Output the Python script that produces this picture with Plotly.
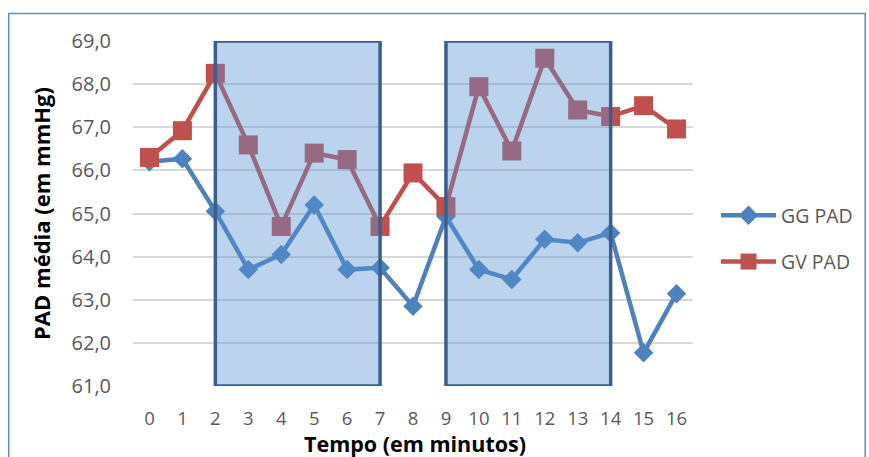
import plotly.graph_objects as go

# Time in minutes
minutes = list(range(17))

# Mean arterial pressure (mmHg) per group
gg_pad = [66.20, 66.27, 65.05, 63.70, 64.05, 65.20, 63.70, 63.74, 62.85,
          64.93, 63.70, 63.47, 64.40, 64.32, 64.55, 61.77, 63.14]
gv_pad = [66.30, 66.92, 68.25, 66.59, 64.70, 66.40, 66.25, 64.70, 65.94,
          65.16, 67.94, 66.45, 68.60, 67.40, 67.25, 67.50, 66.96]

# Highlighted time windows (start, end minute)
windows = [(2, 7), (9, 14)]

y_min, y_max = 61.0, 69.0

fig = go.Figure()

fig.add_trace(go.Scatter(
    x=minutes, y=gg_pad, name="GG PAD", mode="lines+markers",
    line=dict(color="#4F81BD", width=4.5),
    marker=dict(symbol="diamond", size=15, color="#4F81BD"),
    legendgroup="gg",
))
fig.add_trace(go.Scatter(
    x=minutes, y=gv_pad, name="GV PAD", mode="lines+markers",
    line=dict(color="#C0504D", width=4.5),
    marker=dict(symbol="square", size=19, color="#C0504D"),
    legendgroup="gv",
))

for x0, x1 in windows:
    fig.add_shape(
        type="rect", xref="x", yref="y", x0=x0, x1=x1, y0=y_min, y1=y_max,
        fillcolor="rgba(85,145,210,0.4)",
        line=dict(color="#3A5F8E", width=3.5),
        layer="above",
    )

# Plot area in pixels: x 133..694, y 41..386
L, R, T, B = 133, 175, 41, 71
W, H = 869, 457
pw, ph = W - L - R, H - T - B


def px_x(v):
    return (v - L) / pw


def px_y(v):
    return (H - B - v) / ph


# Outer chart frame
fig.add_shape(
    type="rect", xref="paper", yref="paper",
    x0=px_x(8.5), x1=px_x(866.5), y0=px_y(470), y1=px_y(13.5),
    line=dict(color="#5B8BC6", width=1.5), fillcolor="rgba(0,0,0,0)",
    layer="below",
)

# X axis title placed below the tick labels
fig.add_annotation(
    text="<b>Tempo (em minutos)</b>", xref="paper", yref="paper",
    x=px_x(416), y=px_y(443), xanchor="center", yanchor="middle",
    showarrow=False, font=dict(size=21.5, color="black"),
)

fig.update_layout(
    width=W, height=H,
    margin=dict(l=L, r=R, t=T, b=B),
    paper_bgcolor="white", plot_bgcolor="white",
    separators=",.",
    font=dict(family="Open Sans", color="#595959"),
    showlegend=True,
    legend=dict(
        x=px_x(716), y=px_y(196), xanchor="left", yanchor="top",
        font=dict(size=19.5, color="#595959"),
        itemwidth=55, tracegroupgap=18,
        bgcolor="rgba(0,0,0,0)",
    ),
)

fig.update_xaxes(
    range=[-0.5, 16.5], tickvals=minutes, ticktext=[str(m) for m in minutes],
    showgrid=False, zeroline=False, showline=False, ticks="",
    tickfont=dict(size=18.5, color="#595959"),
    ticklabelstandoff=19, automargin=False,
)
fig.update_yaxes(
    range=[y_min, y_max], dtick=1, tick0=61, tickformat=".1f",
    showgrid=True, gridcolor="#D9D9D9", gridwidth=1.5,
    zeroline=False, showline=False, ticks="",
    tickfont=dict(size=20, color="#595959"),
    ticklabelstandoff=21, automargin=False,
    title=dict(text="<b>PAD média (em mmHg)</b>", standoff=14,
               font=dict(size=22, color="black")),
)

fig.write_html("out.html")
